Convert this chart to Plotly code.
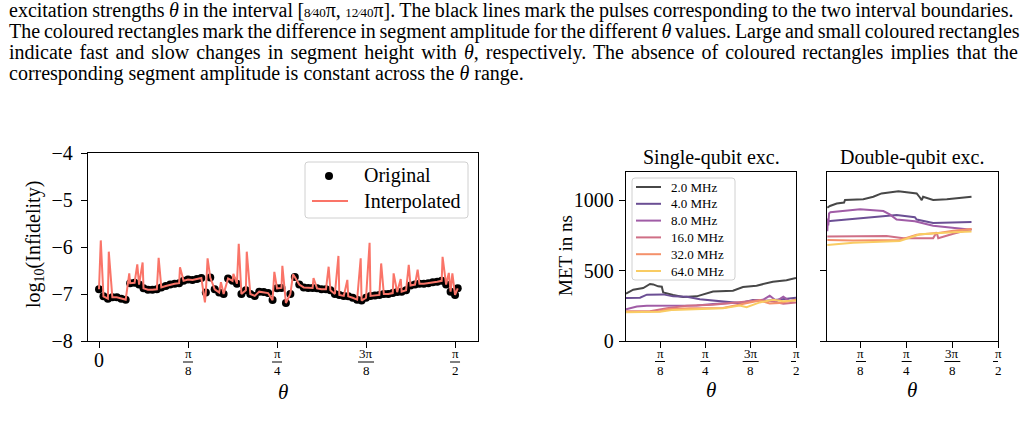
import numpy as np
import plotly.graph_objects as go

W, H = 1027, 448
FONT = "Liberation Serif"
PI8 = np.pi / 8

# ---------------- data (theta in units of pi/8) ----------------
orig_theta_u = [0.00, 0.05, 0.10, 0.15, 0.20, 0.25, 0.30, 0.35, 0.40, 0.45,
                0.50, 0.55, 0.60, 0.65, 0.70, 0.75, 0.80, 0.85, 0.90, 0.95,
                1.00, 1.05, 1.10, 1.15, 1.20, 1.25, 1.30, 1.35, 1.40, 1.45,
                1.50, 1.55, 1.60, 1.65, 1.70, 1.75, 1.80, 1.85, 1.90, 1.95,
                2.00, 2.05, 2.10, 2.15, 2.20, 2.25, 2.30, 2.35, 2.40, 2.45,
                2.50, 2.55, 2.60, 2.65, 2.70, 2.75, 2.80, 2.85, 2.90, 2.95,
                3.00, 3.05, 3.10, 3.15, 3.20, 3.25, 3.30, 3.35, 3.40, 3.45,
                3.50, 3.55, 3.60, 3.65, 3.70, 3.75, 3.80, 3.85, 3.90, 3.95,
                4.00, 4.03]
orig_log_inf = [-6.90, -7.05, -7.10, -7.07, -7.07, -7.10, -7.12, -6.77, -6.76, -6.80,
                -6.88, -6.91, -6.91, -6.90, -6.86, -6.83, -6.80, -6.78, -6.77, -6.72,
                -6.69, -6.70, -6.68, -6.66, -6.97, -6.65, -6.90, -6.97, -7.00, -6.67,
                -6.72, -6.78, -7.00, -6.92, -7.00, -7.04, -6.95, -6.96, -6.98, -7.13,
                -6.88, -6.87, -7.19, -7.00, -6.64, -6.80, -6.86, -6.87, -6.87, -6.88,
                -6.90, -6.90, -6.92, -7.00, -7.02, -7.04, -7.05, -7.08, -7.12, -7.14,
                -7.08, -7.04, -7.03, -7.02, -7.00, -7.00, -6.98, -6.96, -6.95, -6.92,
                -6.82, -6.80, -6.78, -6.78, -6.77, -6.75, -6.74, -6.72, -6.80, -6.95,
                -7.02, -6.88]
spike_theta_u = [0.02, 0.11, 0.34, 0.43, 0.49, 0.67, 0.91, 1.19, 1.22, 1.37,
                 1.51, 1.57, 1.66, 1.97, 2.06, 2.18, 2.41, 2.58, 2.69, 2.79,
                 2.94, 3.04, 3.17, 3.31, 3.39, 3.48, 3.58, 3.86, 3.93, 3.97]
spike_log_inf = [-5.86, -6.10, -6.56, -6.37, -6.33, -6.23, -6.43, -7.18, -6.24, -6.75,
                 -6.57, -5.93, -6.10, -6.53, -6.40, -6.58, -6.66, -6.42, -6.19, -6.70,
                 -6.24, -5.91, -6.35, -6.56, -6.68, -6.38, -6.48, -6.21, -6.55, -6.56]

bandwidth_labels = ["2.0 MHz", "4.0 MHz", "8.0 MHz", "16.0 MHz", "32.0 MHz", "64.0 MHz"]
bandwidth_colors = ["#474747", "#6b4f94", "#a05ca6", "#cf6f86", "#f4916b", "#f9cc63"]

single_2_u = [0.25, 0.41, 0.63, 0.78, 0.85, 0.96, 1.04, 1.07, 1.29, 1.51, 1.81, 2.03, 2.17, 2.61, 2.83, 3.13, 3.49, 3.79, 4.00]
single_2_met = [336, 364, 376, 405, 402, 388, 385, 345, 326, 312, 317, 336, 352, 357, 383, 393, 421, 431, 448]
single_4_u = [0.25, 0.56, 0.71, 1.07, 1.29, 1.59, 1.88, 2.17, 2.47, 2.76, 3.05, 3.35, 3.64, 4.00]
single_4_met = [305, 307, 329, 331, 317, 314, 296, 288, 276, 269, 291, 286, 295, 307]
single_8_u = [0.25, 0.49, 0.71, 1.29, 1.81, 2.17, 2.47, 2.76, 3.05, 3.27, 3.42, 3.57, 3.72, 3.86, 4.00]
single_8_met = [226, 245, 250, 252, 252, 262, 266, 274, 284, 293, 321, 283, 315, 283, 293]
single_16_u = [0.25, 0.78, 1.15, 1.59, 2.17, 2.61, 2.91, 3.20, 3.49, 3.72, 4.00]
single_16_met = [210, 212, 233, 250, 257, 274, 281, 291, 281, 264, 274]
single_32_u = [0.25, 1.00, 1.15, 1.66, 2.39, 2.76, 2.98, 3.20, 3.42, 3.64, 4.00]
single_32_met = [210, 212, 226, 233, 234, 262, 274, 288, 267, 269, 293]
single_64_u = [0.25, 1.00, 1.29, 2.39, 2.76, 2.91, 3.20, 3.49, 3.72, 4.00]
single_64_met = [205, 207, 221, 233, 252, 240, 274, 293, 283, 288]

double_2_u = [0.263, 0.32, 0.47, 0.63, 0.65, 1.05, 1.27, 1.45, 1.82, 2.22, 2.29, 2.33, 2.36, 2.58, 2.88, 3.42]
double_2_met = [947, 959, 976, 983, 1002, 1007, 1024, 1048, 1063, 1048, 1019, 1000, 1024, 1002, 1007, 1024]
double_4_u = [0.263, 0.69, 1.12, 1.78, 2.18, 2.22, 2.58, 3.02, 3.42]
double_4_met = [850, 862, 879, 894, 879, 862, 838, 843, 845]
double_8_u = [0.263, 0.275, 0.285, 0.30, 0.33, 0.98, 1.49, 1.63, 1.78, 2.18, 2.58, 3.02, 3.42]
double_8_met = [780, 870, 820, 905, 915, 935, 923, 899, 862, 850, 819, 802, 790]
double_16_u = [0.263, 1.56, 1.93, 2.58, 2.656, 2.692, 3.02, 3.42]
double_16_met = [742, 746, 729, 729, 773, 729, 761, 795]
double_32_u = [0.263, 0.83, 1.85, 2.22, 2.66, 3.02, 3.42]
double_32_met = [717, 713, 717, 754, 766, 783, 795]
double_64_u = [0.263, 0.83, 1.85, 2.29, 3.02, 3.42]
double_64_met = [681, 698, 710, 758, 773, 778]

single_u = [single_2_u, single_4_u, single_8_u, single_16_u, single_32_u, single_64_u]
single_met = [single_2_met, single_4_met, single_8_met, single_16_met, single_32_met, single_64_met]
double_u = [double_2_u, double_4_u, double_8_u, double_16_u, double_32_u, double_64_u]
double_met = [double_2_met, double_4_met, double_8_met, double_16_met, double_32_met, double_64_met]

infid_ticks = [-8, -7, -6, -5, -4]
infid_ticktext = ["\u22128", "\u22127", "\u22126", "\u22125", "\u22124"]
met_ticks = [0, 500, 1000]
xtick_u_left = [0, 1, 2, 3, 4]
xtick_u_right = [1, 2, 3, 4]
xtick_num = {0: "0", 1: "\u03c0", 2: "\u03c0", 3: "3\u03c0", 4: "\u03c0"}
xtick_den = {0: None, 1: "8", 2: "4", 3: "8", 4: "2"}

FR = '<span style="font-size:13px">%s\u2044%s</span>'
paragraph = [
    ("excitation strengths <i>\u03b8</i> in the interval [" + FR % ("8", "40") + "\u03c0, "
     + FR % ("12", "40") + "\u03c0]. "
     "The black lines mark the pulses corresponding to the two interval boundaries.", -0.6),
    ("The coloured rectangles mark the difference in segment amplitude for the different <i>\u03b8</i> values. "
     "Large and small coloured rectangles", -1.2),
    ("indicate fast and slow changes in segment height with <i>\u03b8</i>, respectively. "
     "The absence of coloured rectangles implies that the", 2.1),
    ("corresponding segment amplitude is constant across the <i>\u03b8</i> range.", 0.0),
]
captions = [("Figure 4: Performance of the interpolated pulses.", 5),
            ("Figure 5: MET for different bandwidths and excitations.", 530)]

# ---------------- helpers ----------------
def px(x):
    return x / W

def py(y):
    return 1 - y / H

fig = go.Figure()

fig.add_trace(go.Scatter(
    x=np.array(orig_theta_u) * PI8, y=orig_log_inf, mode="markers", name="Original",
    marker=dict(color="black", size=8, line=dict(width=0)),
    xaxis="x", yaxis="y", showlegend=False))
pairs = sorted(list(zip(orig_theta_u, orig_log_inf)) + list(zip(spike_theta_u, spike_log_inf)))
fig.add_trace(go.Scatter(
    x=np.array([p[0] for p in pairs]) * PI8, y=[p[1] for p in pairs], mode="lines",
    name="Interpolated", line=dict(color="#fa7468", width=2),
    xaxis="x", yaxis="y", showlegend=False))

for i, lab in enumerate(bandwidth_labels):
    fig.add_trace(go.Scatter(
        x=np.array(single_u[i]) * PI8, y=single_met[i], mode="lines", name=lab,
        line=dict(color=bandwidth_colors[i], width=2), xaxis="x2", yaxis="y2",
        showlegend=False))
for i, lab in enumerate(bandwidth_labels):
    fig.add_trace(go.Scatter(
        x=np.array(double_u[i]) * PI8, y=double_met[i], mode="lines", name=lab,
        line=dict(color=bandwidth_colors[i], width=2), xaxis="x3", yaxis="y3",
        showlegend=False))

axis_style = dict(showline=True, mirror=True, linecolor="black", linewidth=1.3,
                  ticks="outside", ticklen=6, tickwidth=1.2, tickcolor="black",
                  showgrid=False, zeroline=False, automargin=False,
                  tickfont=dict(family=FONT, size=20, color="black"))

y_dom1 = [py(341), py(153)]
y_dom2 = [py(341), py(172)]
fig.update_layout(
    width=W, height=H, margin=dict(l=0, r=0, t=0, b=0, pad=0, autoexpand=False),
    paper_bgcolor="white", plot_bgcolor="white", showlegend=False,
    font=dict(family=FONT, color="black"),
    xaxis=dict(domain=[px(88), px(478)], range=[-0.1236 * PI8, 4.258 * PI8],
               tickvals=[u * PI8 for u in xtick_u_left], showticklabels=False,
               anchor="y", **axis_style),
    yaxis=dict(domain=y_dom1, range=[-8, -4], tickvals=infid_ticks,
               ticktext=infid_ticktext, anchor="x", ticklabelstandoff=4, **axis_style),
    xaxis2=dict(domain=[px(626), px(796)], range=[0.25 * PI8, 4.0 * PI8],
                tickvals=[u * PI8 for u in xtick_u_right], showticklabels=False,
                anchor="y2", **axis_style),
    yaxis2=dict(domain=y_dom2, range=[0, 1200], tickvals=met_ticks, anchor="x2",
                ticklabelstandoff=1, **axis_style),
    xaxis3=dict(domain=[px(827), px(998)], range=[0.256 * PI8, 4.0 * PI8],
                tickvals=[u * PI8 for u in xtick_u_right], showticklabels=False,
                anchor="y3", **axis_style),
    yaxis3=dict(domain=y_dom2, range=[0, 1200], tickvals=met_ticks, anchor="x3",
                showticklabels=False, **axis_style),
)

ann = []
shapes = []

def text_ann(x, y, text, size, angle=0, xanchor="center"):
    ann.append(dict(x=px(x), y=py(y), xref="paper", yref="paper", text=text,
                    showarrow=False, textangle=angle, xanchor=xanchor, yanchor="middle",
                    font=dict(family=FONT, size=size, color="black")))

def frac_ticks(xref, ticks_u, num_y, bar_y, den_y, zero_y=None):
    for u in ticks_u:
        xv = u * PI8
        if xtick_den[u] is None:
            ann.append(dict(x=xv, y=py(zero_y), xref=xref, yref="paper", text=xtick_num[u],
                            showarrow=False, yanchor="middle",
                            font=dict(family=FONT, size=20, color="black")))
            continue
        ann.append(dict(x=xv, y=py(num_y), xref=xref, yref="paper", text=xtick_num[u],
                        showarrow=False, yanchor="middle",
                        font=dict(family=FONT, size=13, color="black")))
        ann.append(dict(x=xv, y=py(den_y), xref=xref, yref="paper", text=xtick_den[u],
                        showarrow=False, yanchor="middle",
                        font=dict(family=FONT, size=13, color="black")))
        hw = 8 if len(xtick_num[u]) > 1 else 5
        shapes.append(dict(type="line", xref=xref, yref="paper", xsizemode="pixel",
                           xanchor=xv, x0=-hw, x1=hw, y0=py(bar_y), y1=py(bar_y),
                           line=dict(color="black", width=1)))

frac_ticks("x", xtick_u_left, 353, 362, 370, zero_y=360)
frac_ticks("x2", xtick_u_right, 353, 361.5, 370.5)
frac_ticks("x3", xtick_u_right, 353, 361.5, 370.5)

def legend_box(x0, y0, x1, y1, r=3):
    path = ("M {a},{b} L {c},{b} Q {x1},{b} {x1},{d} L {x1},{e} Q {x1},{f} {c},{f} "
            "L {a},{f} Q {x0},{f} {x0},{e} L {x0},{d} Q {x0},{b} {a},{b} Z").format(
        a=px(x0 + r), b=py(y0), c=px(x1 - r), d=py(y0 + r), e=py(y1 - r), f=py(y1),
        x0=px(x0), x1=px(x1))
    shapes.append(dict(type="path", xref="paper", yref="paper", path=path,
                       fillcolor="rgba(255,255,255,0.8)", line=dict(color="#d0d0d0", width=1),
                       layer="above"))

# legend of left panel
legend_box(305, 162, 468, 218)
shapes.append(dict(type="circle", xref="paper", yref="paper", xsizemode="pixel", ysizemode="pixel",
                   xanchor=px(329), yanchor=py(176), x0=-4, x1=4, y0=-4, y1=4,
                   fillcolor="black", line=dict(width=0), layer="above"))
shapes.append(dict(type="line", xref="paper", yref="paper", x0=px(312), x1=px(348),
                   y0=py(201), y1=py(201), line=dict(color="#fa7468", width=2), layer="above"))
text_ann(362, 176, "Original", 20, xanchor="left")
text_ann(362, 201, "Interpolated", 20, xanchor="left")

# legend of single-qubit panel
legend_box(632, 178, 735, 280)
for i, lab in enumerate(bandwidth_labels):
    yy = 187 + 16.8 * i
    shapes.append(dict(type="line", xref="paper", yref="paper", x0=px(636), x1=px(661),
                       y0=py(yy), y1=py(yy), line=dict(color=bandwidth_colors[i], width=2),
                       layer="above"))
    text_ann(669, yy, lab, 13, xanchor="left")

text_ann(283, 392, "<i>\u03b8</i>", 21)
text_ann(711, 390, "<i>\u03b8</i>", 21)
text_ann(912, 390, "<i>\u03b8</i>", 21)
text_ann(34, 245, "log<sub>10</sub>(Infidelity)", 20, angle=-90)
text_ann(565, 256, "MET in ns", 19, angle=-90)
text_ann(711, 157, "Single-qubit exc.", 20)
text_ann(912, 157, "Double-qubit exc.", 20)

for i, (line, ws) in enumerate(paragraph):
    text_ann(7, 10 + 21 * i, '<span style="word-spacing:%.2fpx">%s</span>' % (ws, line), 20,
             xanchor="left")
for cap, x0 in captions:
    text_ann(x0, 457, cap, 19, xanchor="left")

fig.update_layout(annotations=ann, shapes=shapes)
fig.write_html("out.html")
